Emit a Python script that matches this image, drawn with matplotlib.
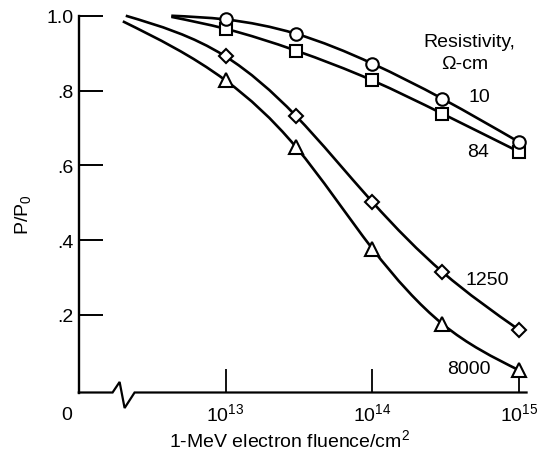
import matplotlib
matplotlib.use('Agg')
import matplotlib.pyplot as plt
import numpy as np
from matplotlib.path import Path
from matplotlib.patches import PathPatch
from matplotlib import font_manager
from matplotlib.ticker import NullLocator

available = {f.name for f in font_manager.fontManager.ttflist}
fam = [f for f in ['Liberation Sans Narrow', 'Liberation Sans', 'DejaVu Sans'] if f in available]
plt.rcParams['font.family'] = fam
plt.rcParams['mathtext.fontset'] = 'custom'
plt.rcParams['mathtext.rm'] = fam[0]
plt.rcParams['mathtext.it'] = fam[0]
plt.rcParams['mathtext.bf'] = fam[0]

# ---------------- data ----------------
fluence = [1e13, 3e13, 1e14, 3e14, 1e15]
p_10 = [0.990, 0.952, 0.872, 0.778, 0.662]
p_84 = [0.965, 0.907, 0.827, 0.738, 0.636]
p_1250 = [0.891, 0.733, 0.502, 0.315, 0.160]
p_8000 = [0.827, 0.650, 0.377, 0.176, 0.052]

# hand-drawn fit curves: starting point of each curve
lead_10_x = [10**12.63]
lead_10_y = [1.000]
lead_84_x = [10**12.63]
lead_84_y = [0.997]
lead_1250_x = [10**12.32]
lead_1250_y = [1.000]
lead_8000_x = [10**12.30]
lead_8000_y = [0.985]

series_labels = ['10', '84', '1250', '8000']
ytick_vals = [0.2, 0.4, 0.6, 0.8, 1.0]
ytick_labels = ['.2', '.4', '.6', '.8', '1.0']
xtick_vals = [1e13, 1e14, 1e15]
xtick_labels = ['$10^{13}$', '$10^{14}$', '$10^{15}$']

# ---------------- figure ----------------
fig = plt.figure(figsize=(5.42, 4.52), dpi=100)
ax = fig.add_axes([78.8 / 542, (452 - 393.5) / 452, (533.9 - 78.8) / 542, (393.5 - 5.5) / 452])
ax.set_xscale('log')
base = -0.0072
ax.set_xlim(1e12, 10**15.1)
ax.set_ylim(base, 1.03)
ax.patch.set_alpha(0)

for s in ['top', 'right', 'bottom']:
    ax.spines[s].set_visible(False)
ax.spines['left'].set_bounds(base, 1.0)
ax.spines['left'].set_linewidth(1.7)

ax.set_yticks(ytick_vals, ytick_labels)
ax.set_xticks(xtick_vals, xtick_labels)
ax.xaxis.set_minor_locator(NullLocator())
ax.tick_params(axis='y', direction='in', length=17, width=1.4, pad=4, labelsize=14)
ax.tick_params(axis='x', direction='in', length=17, width=1.3, pad=7, labelsize=14)

# baseline with axis break (zigzag)
bx = [1e12, 10**12.23, 10**12.278, 10**12.312, 10**12.38, 10**15.05]
by = [base, base, 0.021, -0.0487, base, base]
ax.plot(bx, by, color='black', lw=1.6, clip_on=False, solid_joinstyle='miter')

ax.text(10**11.917, -0.065, '0', ha='center', va='center', fontsize=14)


def smooth_curve(xs, ys):
    """Natural cubic spline path (in log-x space) through the given points."""
    L = np.log10(np.asarray(xs, float))
    Y = np.asarray(ys, float)
    n = len(L)
    h = np.diff(L)
    A = np.zeros((n, n))
    r = np.zeros(n)
    A[0, 0] = 1
    A[-1, -1] = 1
    for i in range(1, n - 1):
        A[i, i - 1] = h[i - 1]
        A[i, i] = 2 * (h[i - 1] + h[i])
        A[i, i + 1] = h[i]
        r[i] = 6 * ((Y[i + 1] - Y[i]) / h[i] - (Y[i] - Y[i - 1]) / h[i - 1])
    M = np.linalg.solve(A, r)
    verts = [(10**L[0], Y[0])]
    codes = [Path.MOVETO]
    for i in range(n - 1):
        s = (Y[i + 1] - Y[i]) / h[i]
        d0 = s - h[i] * (2 * M[i] + M[i + 1]) / 6
        d1 = s + h[i] * (M[i] + 2 * M[i + 1]) / 6
        d = h[i] / 3
        verts += [(10**(L[i] + d), Y[i] + d0 * d),
                  (10**(L[i + 1] - d), Y[i + 1] - d1 * d),
                  (10**L[i + 1], Y[i + 1])]
        codes += [Path.CURVE4] * 3
    return Path(verts, codes)


curves = [
    (lead_10_x + fluence, lead_10_y + p_10),
    (lead_84_x + fluence, lead_84_y + p_84),
    (lead_1250_x + fluence, lead_1250_y + p_1250),
    (lead_8000_x + fluence, lead_8000_y + p_8000),
]
for cx, cy in curves:
    patch = PathPatch(smooth_curve(cx, cy), facecolor='none', edgecolor='black',
                      lw=1.9, transform=ax.transData, clip_on=False, zorder=2)
    ax.add_patch(patch)

for vals, mk, ms, z in [(p_84, 's', 9, 3), (p_10, 'o', 9, 4), (p_1250, 'D', 7.5, 3), (p_8000, '^', 10, 3)]:
    ax.plot(fluence, vals, ls='none', marker=mk, ms=ms, mfc='white', mec='black',
            mew=1.5, clip_on=False, zorder=z)

# labels
ax.text(10**14.66, 0.932, 'Resistivity,', ha='center', va='center', fontsize=14)
ax.text(10**14.63, 0.871, '\u03a9-cm', ha='center', va='center', fontsize=14)
ax.text(10**14.73, 0.785, series_labels[0], ha='center', va='center', fontsize=14)
ax.text(10**14.72, 0.638, series_labels[1], ha='center', va='center', fontsize=14)
ax.text(10**14.785, 0.296, series_labels[2], ha='center', va='center', fontsize=14)
ax.text(10**14.66, 0.056, series_labels[3], ha='center', va='center', fontsize=14)

fig.text(289 / 542, 1 - 440 / 452, '1-MeV electron fluence/cm$^2$', ha='center', va='center', fontsize=14)
fig.text(23 / 542, 1 - 215 / 452, 'P/P$_0$', ha='center', va='center', rotation=90, fontsize=14)

fig.savefig('out.png', dpi=100)
